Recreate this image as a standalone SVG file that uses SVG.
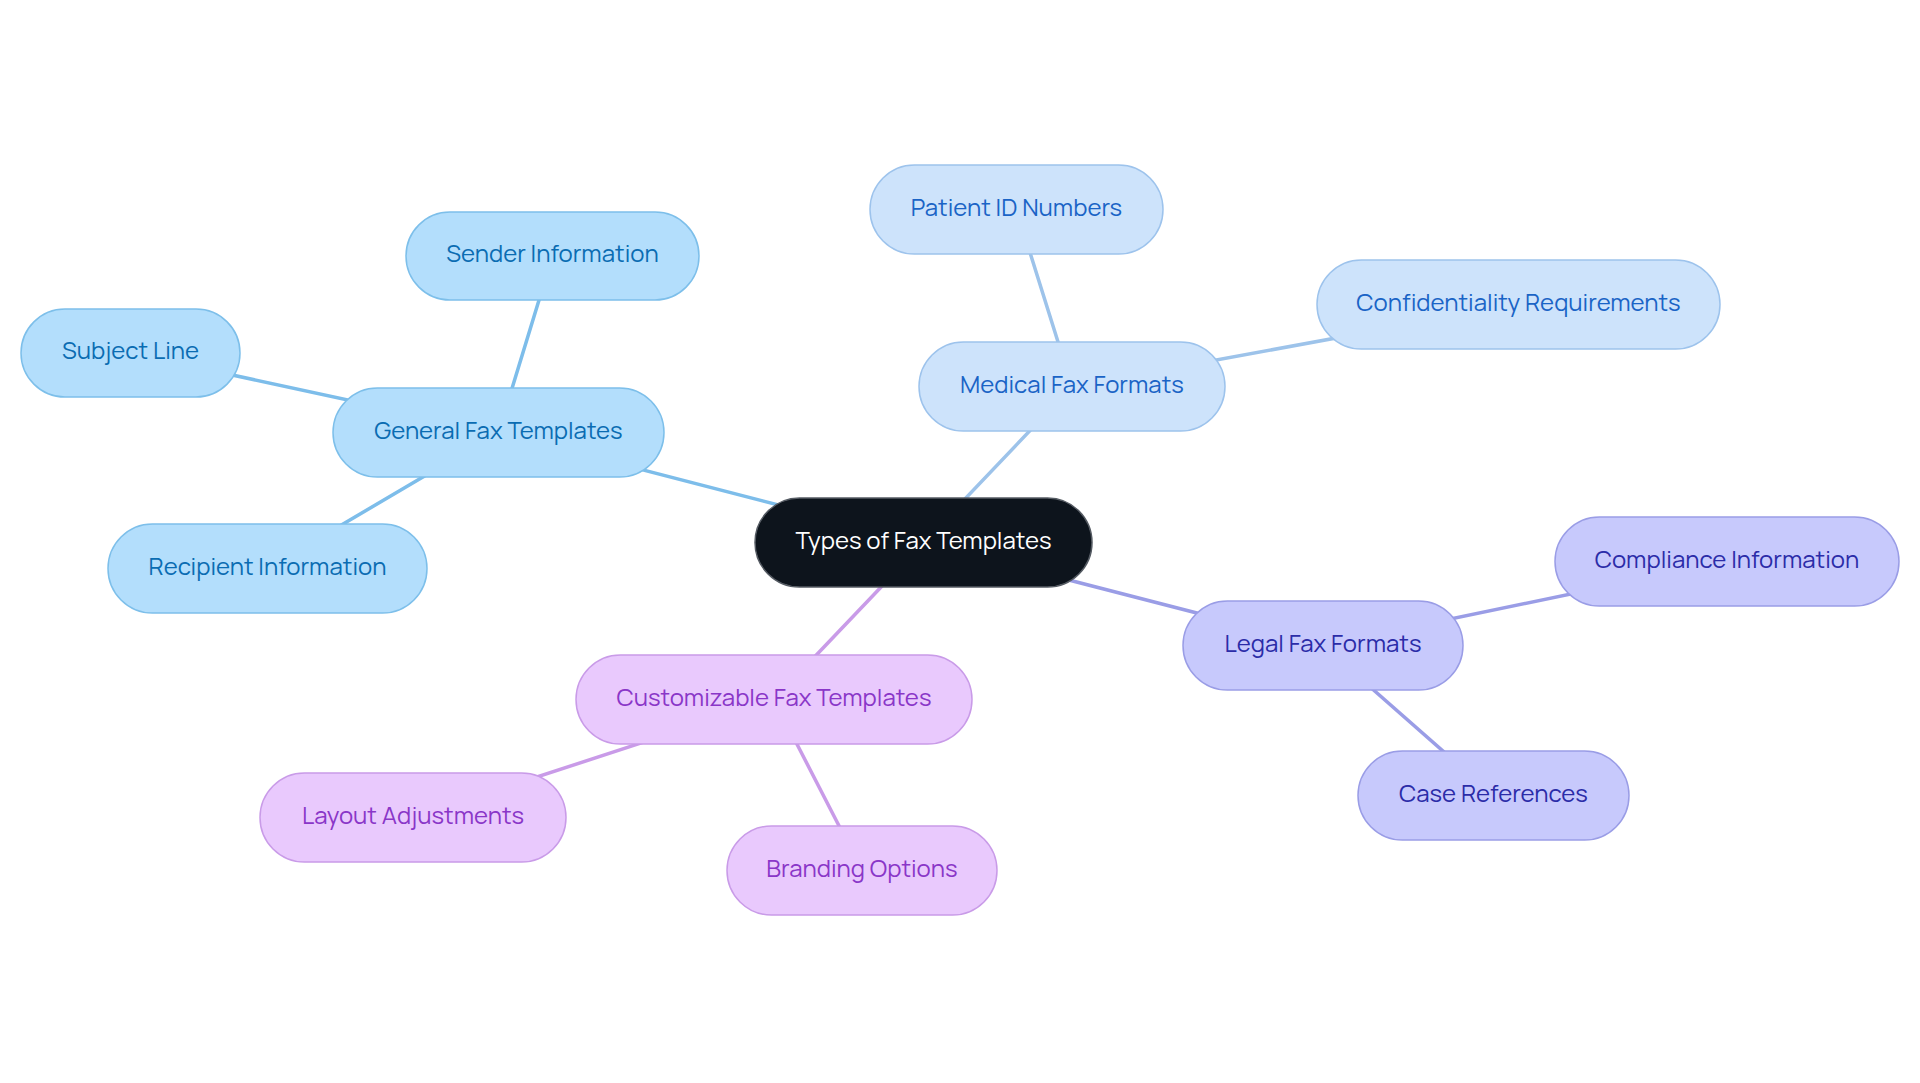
<svg xmlns="http://www.w3.org/2000/svg" width="1920" height="1083" viewBox="0 0 1920 1083">
<style>
text{font-family:Manrope,Inter,"Noto Sans",sans-serif;font-size:24px;text-anchor:middle}
.c line{stroke-width:3.5;stroke-linecap:round}
.g rect{fill:#b3defc;stroke:#7dbfea;stroke-width:1.5}
.g text{fill:#0a6cb2}
.m rect{fill:#cde3fb;stroke:#9dc3ec;stroke-width:1.5}
.m text{fill:#1a64c6}
.l rect{fill:#c7c9fc;stroke:#9a9de6;stroke-width:1.5}
.l text{fill:#2b2ca8}
.p rect{fill:#e9c9fd;stroke:#c99be8;stroke-width:1.5}
.p text{fill:#8a36c8}
</style>
<rect width="1920" height="1083" fill="#ffffff"/>
<g id="connectors" class="c">
<line x1="923.5" y1="542.5" x2="498.5" y2="432.5" stroke="#7dbdea"/>
<line x1="498.5" y1="432.5" x2="552.5" y2="256" stroke="#7dbdea"/>
<line x1="498.5" y1="432.5" x2="130.5" y2="353" stroke="#7dbdea"/>
<line x1="498.5" y1="432.5" x2="267.5" y2="568.5" stroke="#7dbdea"/>
<line x1="923.5" y1="542.5" x2="1072" y2="386.5" stroke="#9dc3ea"/>
<line x1="1072" y1="386.5" x2="1016.5" y2="209.5" stroke="#9dc3ea"/>
<line x1="1072" y1="386.5" x2="1518.5" y2="304.5" stroke="#9dc3ea"/>
<line x1="923.5" y1="542.5" x2="1323" y2="645.5" stroke="#9a9de6"/>
<line x1="1323" y1="645.5" x2="1727" y2="561.5" stroke="#9a9de6"/>
<line x1="1323" y1="645.5" x2="1493.5" y2="795.5" stroke="#9a9de6"/>
<line x1="923.5" y1="542.5" x2="774" y2="699.5" stroke="#c99be8"/>
<line x1="774" y1="699.5" x2="413" y2="817.5" stroke="#c99be8"/>
<line x1="774" y1="699.5" x2="862" y2="870.5" stroke="#c99be8"/>
</g>
<g id="n-root">
<rect x="755" y="498" width="337" height="89" rx="44.5" fill="#0d141c" stroke="#555b63" stroke-width="1.5"/>
<text x="923.5" y="548.5" fill="#ffffff">Types of Fax Templates</text>
</g>
<g id="n-general" class="g">
<rect x="333" y="388" width="331" height="89" rx="44.5"/>
<text x="498.5" y="438.5">General Fax Templates</text>
</g>
<g id="n-sender" class="g">
<rect x="406" y="212" width="293" height="88" rx="44"/>
<text x="552.5" y="262">Sender Information</text>
</g>
<g id="n-subject" class="g">
<rect x="21" y="309" width="219" height="88" rx="44"/>
<text x="130.5" y="359">Subject Line</text>
</g>
<g id="n-recipient" class="g">
<rect x="108" y="524" width="319" height="89" rx="44.5"/>
<text x="267.5" y="574.5">Recipient Information</text>
</g>
<g id="n-medical" class="m">
<rect x="919" y="342" width="306" height="89" rx="44.5"/>
<text x="1072" y="392.5">Medical Fax Formats</text>
</g>
<g id="n-patient" class="m">
<rect x="870" y="165" width="293" height="89" rx="44.5"/>
<text x="1016.5" y="215.5">Patient ID Numbers</text>
</g>
<g id="n-confidentiality" class="m">
<rect x="1317" y="260" width="403" height="89" rx="44.5"/>
<text x="1518.5" y="310.5">Confidentiality Requirements</text>
</g>
<g id="n-legal" class="l">
<rect x="1183" y="601" width="280" height="89" rx="44.5"/>
<text x="1323" y="651.5">Legal Fax Formats</text>
</g>
<g id="n-compliance" class="l">
<rect x="1555" y="517" width="344" height="89" rx="44.5"/>
<text x="1727" y="567.5">Compliance Information</text>
</g>
<g id="n-case" class="l">
<rect x="1358" y="751" width="271" height="89" rx="44.5"/>
<text x="1493.5" y="801.5">Case References</text>
</g>
<g id="n-custom" class="p">
<rect x="576" y="655" width="396" height="89" rx="44.5"/>
<text x="774" y="705.5">Customizable Fax Templates</text>
</g>
<g id="n-layout" class="p">
<rect x="260" y="773" width="306" height="89" rx="44.5"/>
<text x="413" y="823.5">Layout Adjustments</text>
</g>
<g id="n-branding" class="p">
<rect x="727" y="826" width="270" height="89" rx="44.5"/>
<text x="862" y="876.5">Branding Options</text>
</g>
</svg>
